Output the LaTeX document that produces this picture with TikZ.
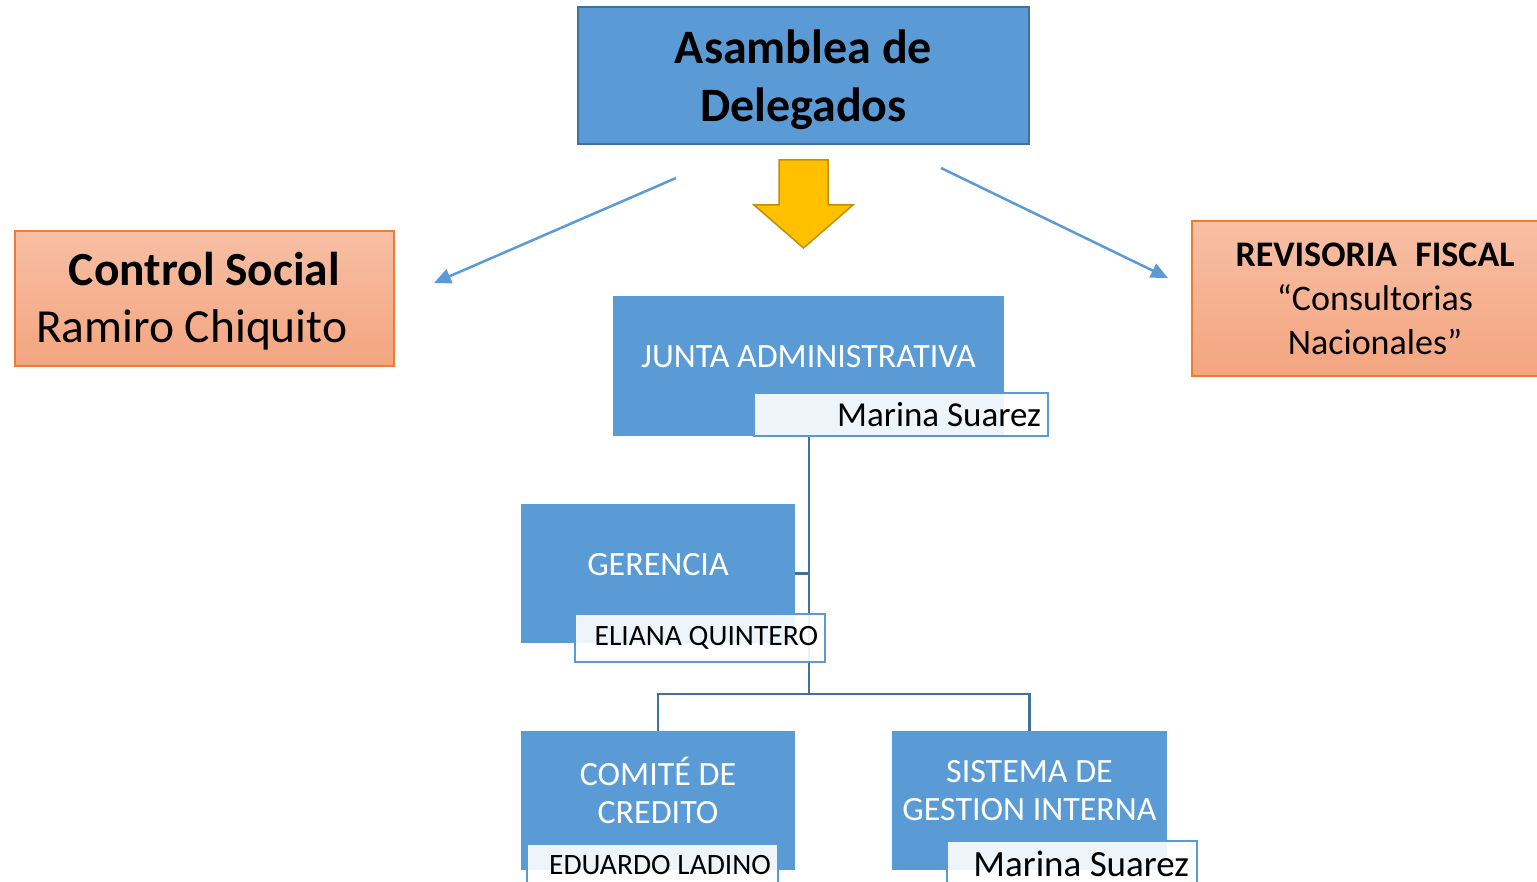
\documentclass[tikz,border=0pt]{standalone}
\usepackage{fontspec}
\setmainfont{Carlito}
\usetikzlibrary{arrows.meta}
\definecolor{boxblue}{HTML}{5B9BD5}
\definecolor{lineblue}{HTML}{41719C}
\definecolor{gold}{HTML}{FFC000}
\definecolor{golddark}{HTML}{BF9000}
\definecolor{peachtop}{HTML}{F7BFA4}
\definecolor{peachbot}{HTML}{F4A580}
\definecolor{peachline}{HTML}{ED7D31}

\begin{document}
\begin{tikzpicture}[x=1pt, y=-1pt,
	unit/.style = {fill=boxblue, inner sep=0pt, minimum width=274pt, minimum height=139pt},
	unittext/.style = {text=white, align=center, inner sep=0pt, font=\fontsize{34}{38}\selectfont},
	namebox/.style = {draw=boxblue, line width=2pt, fill=white, fill opacity=0.9, text opacity=1, align=flush right, inner xsep=7pt, inner ysep=0pt, anchor=north west},
	side/.style = {draw=peachline, line width=1.5pt, top color=peachtop, bottom color=peachbot, align=center, inner sep=0pt},
	link/.style = {draw=lineblue, line width=2.5pt},
	pointer/.style = {draw=boxblue, line width=2.5pt, -{Triangle[length=17pt,width=15pt]}}]
\path[use as bounding box, fill=white] (0,0) rectangle (1537,882);

% top of the chart
\node[fill=boxblue, draw=lineblue, line width=2pt, align=center, minimum width=451pt, minimum height=137pt, font=\fontsize{48}{58}\selectfont\bfseries] (asamblea) at (803.5,75.5) {\rule{0pt}{42pt}Asamblea de\\Delegados};
\node[side, minimum width=379pt, minimum height=135pt, font=\fontsize{47.5}{57}\selectfont] (control) at (204.5,298.5) {\rule{0pt}{38pt}\textbf{Control Social}\\\makebox[337pt][l]{Ramiro Chiquito}};
\node[side, minimum width=366pt, minimum height=155pt, font=\fontsize{36}{44}\selectfont] (revisoria) at (1375,298.5) {\textbf{REVISORIA\enspace FISCAL}\\“Consultorias\\Nacionales”};

\draw[fill=gold, draw=golddark, line width=1.5pt] (779,160) -- (828,160) -- (828,205) -- (853,205) -- (803.5,248) -- (754,205) -- (779,205) -- cycle;

\coordinate (la) at (676,178);
\coordinate (lb) at (434,283);
\coordinate (ra) at (941,168);
\coordinate (rb) at (1168,278);
\draw[pointer] (la) -- (lb);
\draw[pointer] (ra) -- (rb);

% units
\node[unit, minimum width=391pt, minimum height=140pt] (junta) at (808.5,366) {};
\node[unit] (gerencia) at (658,573.5) {};
\node[unit] (comite) at (658,800.5) {};
\node[unit, minimum width=275pt] (sistema) at (1029.5,800.5) {};
\node[unittext] (juntalabel) at ([yshift=9pt]junta.center) {JUNTA ADMINISTRATIVA};
\node[unittext] (gerencialabel) at ([yshift=9pt]gerencia.center) {GERENCIA};
\node[unittext] (comitelabel) at ([yshift=10pt]comite.center) {COMITÉ DE\\CREDITO};
\node[unittext] (sistemalabel) at ([yshift=10pt]sistema.center) {SISTEMA DE\\GESTION INTERNA};

\coordinate (hub) at (809,694);
\draw[link] (junta.south -| hub) -- (hub);
\draw[link] (gerencia.east) -- (gerencia.east -| hub);
\draw[link] (comite.north) |- (hub) -| (sistema.north);

% names
\node[namebox, text width=280pt, minimum height=43pt, font=\fontsize{35}{40}\selectfont] (juntaname) at (753,392) {Marina Suarez};
\node[namebox, text width=236pt, minimum height=48pt, font=\fontsize{29.5}{34}\selectfont] (gerencianame) at (574,613) {ELIANA QUINTERO};
\node[namebox, text width=237pt, minimum height=43pt, font=\fontsize{29.5}{34}\selectfont] (comitename) at (526,843) {EDUARDO LADINO};
\node[namebox, text width=234pt, minimum height=45pt, inner xsep=8pt, font=\fontsize{37}{42}\selectfont] (sistemaname) at (946,840) {Marina Suarez};
\end{tikzpicture}
\end{document}
